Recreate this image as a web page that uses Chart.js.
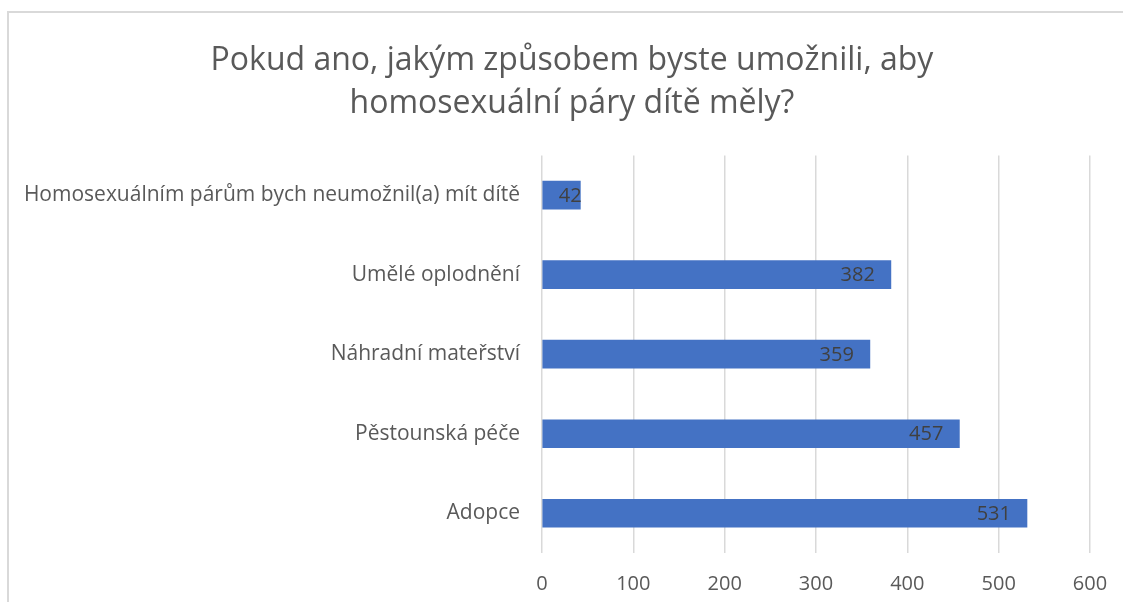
<!DOCTYPE html>
<html lang="cs">
<head>
    <meta charset="UTF-8">
    <title>Pokud ano, jakým způsobem</title>
    <script src="https://cdn.jsdelivr.net/npm/chart.js@4.4.0/dist/chart.umd.min.js"></script>
    <style>
        html, body { margin: 0; padding: 0; background: #fff; overflow: hidden; }
        #box {
            position: absolute; left: 7px; top: 11px;
            width: 1126px; height: 600px;
            border-left: 2px solid #d9d9d9; border-top: 2px solid #d9d9d9;
        }
    </style>
</head>
<body>
<div id="box"><canvas id="chart"></canvas></div>

<script>
    const labels = [
        'Homosexuálním párům bych neumožnil(a) mít dítě',
        'Umělé oplodnění',
        'Náhradní mateřství',
        'Pěstounská péče',
        'Adopce'
    ];
    const counts = [42, 382, 359, 457, 531];
    const titleLines = ['Pokud ano, jakým způsobem byste umožnili, aby', 'homosexuální páry dítě měly?'];

    const FONT = '"Open Sans", "Noto Sans", sans-serif';

    // labels inside the bar end, like in Excel
    const barLabels = {
        id: 'barLabels',
        afterDatasetsDraw(chart) {
            const ctx = chart.ctx;
            const meta = chart.getDatasetMeta(0);
            ctx.save();
            ctx.font = '20px ' + FONT;
            ctx.fillStyle = '#404040';
            ctx.textAlign = 'right';
            ctx.textBaseline = 'middle';
            meta.data.forEach((bar, i) => {
                const txt = String(counts[i]);
                const w = ctx.measureText(txt).width;
                const x = Math.max(bar.x - 16, bar.base + 16 + w);
                ctx.fillText(txt, x, bar.y + 1);
            });
            ctx.restore();
        }
    };

    new Chart(document.getElementById('chart'), {
        type: 'bar',
        data: {
            labels: labels,
            datasets: [{
                data: counts,
                backgroundColor: '#4472c4',
                barThickness: 28
            }]
        },
        options: {
            indexAxis: 'y',
            responsive: true,
            maintainAspectRatio: false,
            animation: false,
            layout: { padding: 0 },
            plugins: {
                legend: { display: false },
                tooltip: { enabled: false },
                title: {
                    display: true,
                    text: titleLines,
                    color: '#595959',
                    font: { family: FONT, size: 32, weight: 'normal', lineHeight: 1.35 },
                    padding: { top: 26, bottom: 30 }
                }
            },
            scales: {
                x: {
                    min: 0, max: 600,
                    ticks: { stepSize: 100, color: '#595959', padding: 19, font: { family: FONT, size: 20 } },
                    grid: { color: '#d9d9d9', lineWidth: 1.5, drawTicks: false },
                    border: { display: false },
                    afterFit(s) { s.height = 60; }
                },
                y: {
                    ticks: { color: '#595959', padding: 14, font: { family: FONT, size: 21 } },
                    grid: { display: false },
                    border: { display: false },
                    afterFit(s) { s.width = 533; }
                },
                // empty spacer on the right so the plot ends where Excel's does
                spacer: {
                    type: 'linear',
                    position: 'right',
                    ticks: { display: false },
                    grid: { display: false },
                    border: { display: false },
                    afterFit(s) { s.width = 45; }
                }
            }
        },
        plugins: [barLabels]
    });
</script>
</body>
</html>
